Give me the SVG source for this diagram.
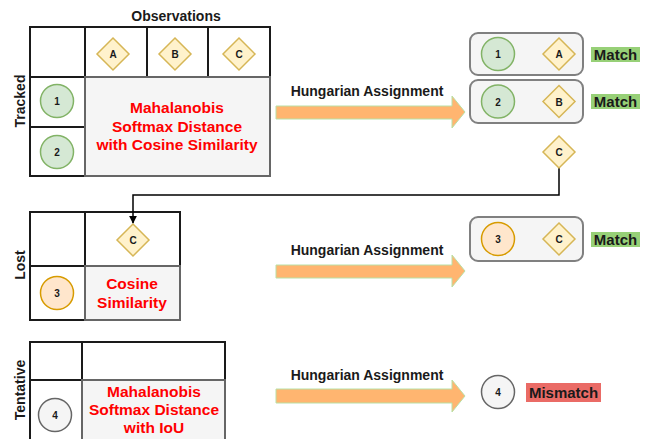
<svg xmlns="http://www.w3.org/2000/svg" width="649" height="439" viewBox="0 0 649 439">
<defs>
<style>
text{font-family:"Liberation Sans",Arial,sans-serif;font-weight:bold;text-anchor:middle;}
.cell{fill:#ffffff;stroke:#1a1a1a;stroke-width:2;}
.gray{fill:#f5f5f5;stroke:#666666;stroke-width:2;}
.dia{fill:#fff2cc;stroke:#d6b656;stroke-width:1.5;}
.green{fill:#d5e8d4;stroke:#82b366;stroke-width:1.5;}
.orange{fill:#ffe6cc;stroke:#d79b00;stroke-width:1.5;}
.grayc{fill:#f5f5f5;stroke:#666666;stroke-width:1.5;}
.pair{fill:#f5f5f5;stroke:#808080;stroke-width:2;}
.lbl{font-size:10px;fill:#1a1a1a;}
.red{font-size:15.5px;fill:#ff0000;}
.title{font-size:14px;fill:#1a1a1a;}
.arrow{fill:#ffb570;stroke:#b9e0a5;stroke-width:1;}
.match{fill:#97d077;}
.mis{fill:#ea6b66;}
.tag{font-size:15px;fill:#1a1a1a;}
</style>
<marker id="ah" viewBox="0 0 10 10" refX="9" refY="5" markerWidth="8" markerHeight="8" orient="auto" markerUnits="userSpaceOnUse">
<path d="M0,0 L10,5 L0,10 Z" fill="#000"/>
</marker>
</defs>

<g id="tracked-table">
<text class="title" x="176" y="21">Observations</text>
<text class="title" transform="translate(25,101) rotate(-90)">Tracked</text>
<rect class="cell" x="30" y="27" width="55" height="50"/>
<rect class="cell" x="85" y="27" width="62" height="50"/>
<rect class="cell" x="147" y="27" width="61" height="50"/>
<rect class="cell" x="208" y="27" width="62" height="50"/>
<rect class="cell" x="30" y="77" width="55" height="50"/>
<rect class="cell" x="30" y="127" width="55" height="49"/>
<rect class="gray" x="85" y="77" width="185" height="99"/>
<text class="red" x="177" y="113">Mahalanobis</text>
<text class="red" x="177" y="132">Softmax Distance</text>
<text class="red" x="177" y="150">with Cosine Similarity</text>
</g>
<g id="obs-A"><path class="dia" d="M113,38 L129,54 L113,70 L97,54 Z"/><text class="lbl" x="113" y="58">A</text></g>
<g id="obs-B"><path class="dia" d="M175,38 L191,54 L175,70 L159,54 Z"/><text class="lbl" x="175" y="58">B</text></g>
<g id="obs-C"><path class="dia" d="M239,38 L255,54 L239,70 L223,54 Z"/><text class="lbl" x="239" y="58">C</text></g>
<g id="track-1"><circle class="green" cx="57" cy="101" r="16.5"/><text class="lbl" x="57" y="105">1</text></g>
<g id="track-2"><circle class="green" cx="57" cy="152" r="16.5"/><text class="lbl" x="57" y="156">2</text></g>

<g id="lost-table">
<text class="title" transform="translate(25,265) rotate(-90)">Lost</text>
<rect class="cell" x="30" y="212" width="55" height="54"/>
<rect class="cell" x="85" y="212" width="95" height="54"/>
<rect class="cell" x="30" y="266" width="55" height="54"/>
<rect class="gray" x="85" y="266" width="95" height="54"/>
<text class="red" x="132" y="289">Cosine</text>
<text class="red" x="132" y="308">Similarity</text>
</g>
<g id="lost-C"><path class="dia" d="M133,224 L149,240 L133,256 L117,240 Z"/><text class="lbl" x="133" y="244">C</text></g>
<g id="lost-3"><circle class="orange" cx="57" cy="293" r="16.5"/><text class="lbl" x="57" y="297">3</text></g>

<g id="tentative-table">
<text class="title" transform="translate(25,390) rotate(-90)">Tentative</text>
<rect class="cell" x="30" y="342" width="52" height="38"/>
<rect class="cell" x="82" y="342" width="143" height="38"/>
<rect class="cell" x="30" y="380" width="52" height="62"/>
<rect class="gray" x="82" y="380" width="143" height="62"/>
<text class="red" x="154" y="397">Mahalanobis</text>
<text class="red" x="154" y="415">Softmax Distance</text>
<text class="red" x="154" y="433">with IoU</text>
</g>
<g id="tent-4"><circle class="grayc" cx="55" cy="415" r="16.5"/><text class="lbl" x="55" y="419">4</text></g>

<g id="connectors">
<text class="title" x="367" y="96">Hungarian Assignment</text>
<path class="arrow" d="M276,106 L452,106 L452,96 L465,112 L452,128 L452,119 L276,119 Z"/>
<text class="title" x="367" y="255">Hungarian Assignment</text>
<path class="arrow" d="M276,265 L452,265 L452,255 L465,271 L452,287 L452,278 L276,278 Z"/>
<text class="title" x="367" y="380">Hungarian Assignment</text>
<path class="arrow" d="M276,389 L452,389 L452,380 L465,396 L452,412 L452,403 L276,403 Z"/>
<path d="M559,168 L559,195 L133,195 L133,223" fill="none" stroke="#000" stroke-width="1.5" marker-end="url(#ah)"/>
</g>

<g id="match-1">
<rect class="pair" x="470" y="33" width="113" height="42" rx="8"/>
<circle class="green" cx="498" cy="54" r="16.5"/><text class="lbl" x="498" y="58">1</text>
<path class="dia" d="M559,38 L575,54 L559,70 L543,54 Z"/><text class="lbl" x="559" y="58">A</text>
<rect class="match" x="591" y="47" width="49" height="15"/><text class="tag" x="615.5" y="60">Match</text>
</g>
<g id="match-2">
<rect class="pair" x="470" y="80" width="113" height="43" rx="8"/>
<circle class="green" cx="498" cy="101.5" r="16.5"/><text class="lbl" x="498" y="105.5">2</text>
<path class="dia" d="M559,85.5 L575,101.5 L559,117.5 L543,101.5 Z"/><text class="lbl" x="559" y="105.5">B</text>
<rect class="match" x="591" y="94" width="49" height="15"/><text class="tag" x="615.5" y="107">Match</text>
</g>
<g id="unmatched-C"><path class="dia" d="M559,136 L575,152 L559,168 L543,152 Z"/><text class="lbl" x="559" y="156">C</text></g>
<g id="match-3">
<rect class="pair" x="470" y="217" width="113" height="44" rx="8"/>
<circle class="orange" cx="498" cy="239" r="16.5"/><text class="lbl" x="498" y="243">3</text>
<path class="dia" d="M559,223 L575,239 L559,255 L543,239 Z"/><text class="lbl" x="559" y="243">C</text>
<rect class="match" x="591" y="232" width="49" height="15"/><text class="tag" x="615.5" y="245">Match</text>
</g>
<g id="mismatch-4">
<circle class="grayc" cx="498" cy="392" r="16.5"/><text class="lbl" x="498" y="396">4</text>
<rect class="mis" x="526" y="383" width="75" height="19"/><text class="tag" x="563.5" y="398">Mismatch</text>
</g>
</svg>
